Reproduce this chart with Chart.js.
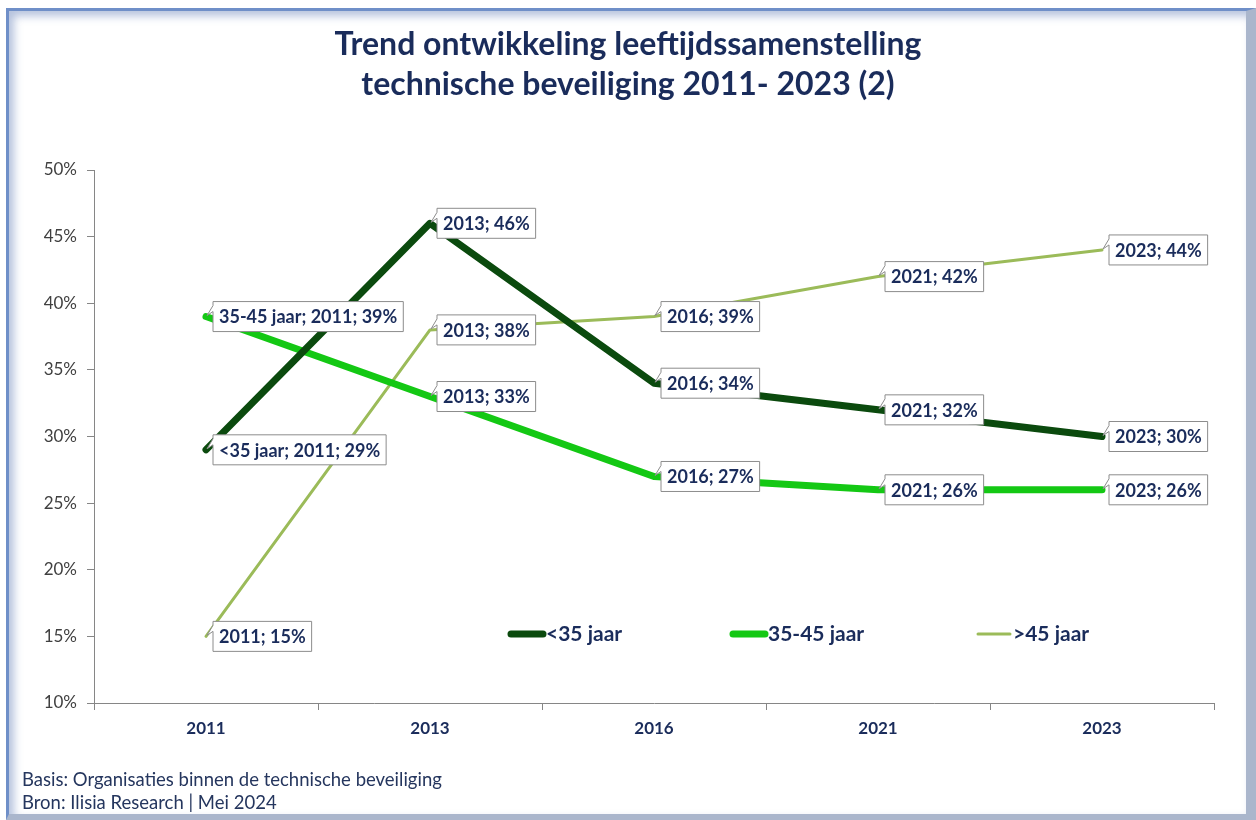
<!DOCTYPE html>
<html>
<head>
<meta charset="utf-8">
<script src="https://cdn.jsdelivr.net/npm/chart.js@4.4.1/dist/chart.umd.min.js"></script>
<style>
  html, body { margin: 0; padding: 0; background: #fff; }
  #frame {
    position: absolute; left: 6px; top: 8px; width: 1250px; height: 812px;
    box-sizing: border-box;
    border-top: 3px solid #6f8fc8; border-left: 3px solid #6f8fc8;
    border-right: 10px solid #aab6cc; border-bottom: 6px solid #aab6cc;
    box-shadow: inset 5px 5px 8px rgba(90,120,180,0.45);
  }
  #wrap { position: absolute; left: 0; top: 0; width: 1256px; height: 820px; }
  #title {
    position: absolute; left: 0; top: 23px; width: 1256px; text-align: center;
    font-family: Lato, sans-serif; font-weight: bold; font-size: 32px; line-height: 40px;
    color: #1a2c5b;
  }
  #footer {
    position: absolute; left: 22px; top: 768px;
    font-family: Lato, sans-serif; font-size: 18.5px; line-height: 23px; color: #25365e;
  }
</style>
</head>
<body>
<div id="frame"></div>
<div id="wrap"><canvas id="chart" width="1256" height="820"></canvas></div>
<div id="title">Trend ontwikkeling leeftijdssamenstelling<br>technische beveiliging 2011- 2023 (2)</div>
<div id="footer">Basis: Organisaties binnen de technische beveiliging<br>Bron: Ilisia Research | Mei 2024</div>
<script>
const years = ["2011", "2013", "2016", "2021", "2023"];
const seriesNames = ["<35 jaar", "35-45 jaar", ">45 jaar"];
const under35 = [29, 46, 34, 32, 30];
const mid3545 = [39, 33, 27, 26, 26];
const over45 = [15, 38, 39, 42, 44];
const yTicks = [10, 15, 20, 25, 30, 35, 40, 45, 50];

const navy = "#1a2c5b";
const colors = ["#0b4a0e", "#14c814", "#9bbb59"];
const widths = [7, 7, 3];

// labels next to each point, first point of two series carries series name
const labelPlugin = {
  id: "pointLabels",
  afterDatasetsDraw(chart) {
    const ctx = chart.ctx;
    ctx.save();
    ctx.font = "bold 18px Lato, sans-serif";
    ctx.textBaseline = "middle";
    chart.data.datasets.forEach((ds, di) => {
      const meta = chart.getDatasetMeta(di);
      meta.data.forEach((pt, i) => {
        let txt = years[i] + "; " + ds.data[i] + "%";
        if (i === 0 && di < 2) txt = ds.label + "; " + txt;
        const w = ctx.measureText(txt).width + 12;
        const h = 30;
        const bx = pt.x + 7, by = pt.y - h / 2;
        ctx.beginPath();
        ctx.moveTo(bx, by);
        ctx.lineTo(bx + w, by);
        ctx.lineTo(bx + w, by + h);
        ctx.lineTo(bx, by + h);
        ctx.lineTo(bx, by + 10);
        ctx.lineTo(pt.x + 1, pt.y - 1);
        ctx.lineTo(bx, by + 4);
        ctx.closePath();
        ctx.fillStyle = "#fff";
        ctx.fill();
        ctx.strokeStyle = "#8c8c8c";
        ctx.lineWidth = 1;
        ctx.stroke();
        ctx.fillStyle = navy;
        ctx.fillText(txt, bx + 6, pt.y + 1);
      });
    });
    ctx.restore();
  },
  afterDraw(chart) {
    const ctx = chart.ctx;
    const lx = [508, 730, 975];
    const ly = 634;
    ctx.save();
    ctx.font = "bold 21px Lato, sans-serif";
    ctx.textBaseline = "middle";
    chart.data.datasets.forEach((ds, di) => {
      ctx.beginPath();
      ctx.moveTo(lx[di] + 3, ly);
      ctx.lineTo(lx[di] + 35, ly);
      ctx.strokeStyle = ds.borderColor;
      ctx.lineWidth = ds.borderWidth;
      ctx.lineCap = "round";
      ctx.stroke();
      ctx.fillStyle = navy;
      ctx.fillText(ds.label, lx[di] + 38, ly);
    });
    ctx.restore();
  }
};

const allSeries = [under35, mid3545, over45];

new Chart(document.getElementById("chart"), {
  type: "line",
  data: {
    labels: years,
    datasets: allSeries.map((d, i) => ({
      label: seriesNames[i],
      data: d,
      borderColor: colors[i],
      backgroundColor: colors[i],
      borderWidth: widths[i],
      pointRadius: 0,
      borderCapStyle: "round",
      borderJoinStyle: "round",
      tension: 0
    }))
  },
  options: {
    responsive: false,
    animation: false,
    layout: { padding: { left: 0, right: 42, top: 170, bottom: 67 } },
    plugins: {
      legend: { display: false },
      title: { display: false },
      tooltip: { enabled: false }
    },
    scales: {
      x: {
        offset: true,
        afterFit: s => { s.height = 50; },
        border: { color: "#868686", width: 1 },
        grid: { drawOnChartArea: false, tickLength: 7, color: "#868686", offset: true },
        ticks: { color: navy, font: { family: "Lato, sans-serif", size: 17, weight: "bold" }, padding: 8 }
      },
      y: {
        min: 10,
        max: 50,
        afterFit: s => { s.width = 94; },
        afterBuildTicks: s => { s.ticks = yTicks.map(v => ({ value: v })); },
        border: { color: "#868686", width: 1 },
        grid: { drawOnChartArea: false, tickLength: 7, color: "#868686" },
        ticks: {
          color: "#404040",
          font: { family: "Lato, sans-serif", size: 17 },
          padding: 10,
          callback: v => v + "%"
        }
      }
    }
  },
  plugins: [labelPlugin]
});
</script>
</body>
</html>
